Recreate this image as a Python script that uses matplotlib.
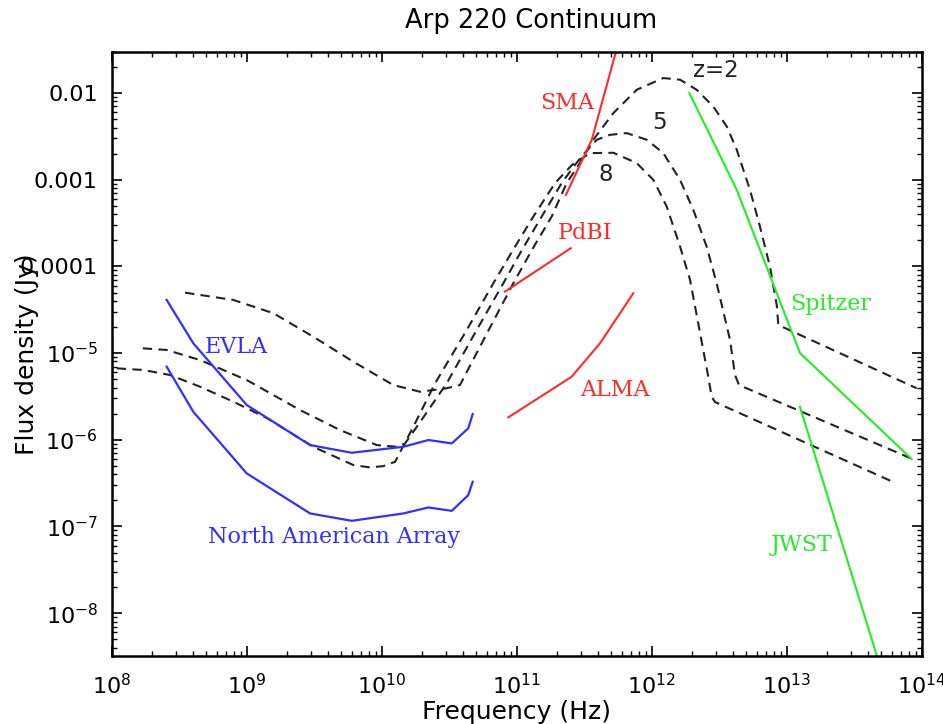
import numpy as np
import matplotlib
matplotlib.use("Agg")
import matplotlib.pyplot as plt

# values: log10(frequency / Hz) and log10(flux density / Jy)
evla_logf = [8.407, 8.604, 9.000, 9.469, 9.778, 10.160, 10.345, 10.519, 10.641, 10.674]
evla_logs = [-4.387, -4.887, -5.599, -6.061, -6.150, -6.081, -6.003, -6.042, -5.868, -5.703]

naa_logf = [8.407, 8.604, 9.000, 9.469, 9.778, 10.160, 10.345, 10.519, 10.641, 10.674]
naa_logs = [-5.157, -5.677, -6.388, -6.850, -6.935, -6.850, -6.781, -6.820, -6.639, -6.485]

sma_logf = [11.365, 11.556, 11.780]
sma_logs = [-3.174, -2.539, -1.269]

pdbi_logf = [10.913, 11.400]
pdbi_logs = [-4.291, -3.790]

alma_logf = [10.938, 11.407, 11.617, 11.864]
alma_logs = [-5.741, -5.273, -4.887, -4.309]

spitzer_logf = [12.279, 12.630, 13.098, 13.926]
spitzer_logs = [-2.000, -3.117, -4.999, -6.223]

jwst_logf = [13.098, 13.724]
jwst_logs = [-5.619, -8.775]

# Arp 220 SED redshifted to z = 2, 5, 8
z2_logf = [8.543, 8.901, 9.197, 9.493, 9.790, 10.086, 10.284, 10.481, 10.580, 10.773,
           10.975, 11.113, 11.259, 11.370, 11.469, 11.567, 11.716, 11.889, 12.086, 12.210,
           12.333, 12.456, 12.556, 12.630, 12.728, 12.802, 12.876, 12.926, 12.938, 13.963]
z2_logs = [-4.303, -4.387, -4.540, -4.811, -5.100, -5.369, -5.446, -5.406, -5.368, -4.791,
           -4.194, -3.809, -3.425, -3.039, -2.805, -2.539, -2.231, -1.962, -1.827, -1.846,
           -1.962, -2.155, -2.386, -2.655, -3.117, -3.541, -4.003, -4.445, -4.676, -5.406]

z5_logf = [8.230, 8.407, 8.654, 9.000, 9.395, 9.691, 9.963, 10.111, 10.173, 10.269,
           10.481, 10.691, 10.901, 11.039, 11.185, 11.333, 11.432, 11.491, 11.593, 11.691,
           11.815, 11.963, 12.086, 12.210, 12.308, 12.407, 12.481, 12.580, 12.617, 12.647,
           13.938]
z5_logs = [-4.945, -4.964, -5.080, -5.311, -5.657, -5.888, -6.061, -6.081, -6.042, -5.830,
           -5.349, -4.768, -4.194, -3.809, -3.425, -3.039, -2.828, -2.713, -2.539, -2.482,
           -2.462, -2.539, -2.693, -3.001, -3.347, -3.771, -4.194, -4.848, -5.253, -5.369,
           -6.226]

z8_logf = [8.037, 8.234, 8.432, 8.654, 8.901, 9.148, 9.493, 9.790, 9.913, 10.012,
           10.099, 10.234, 10.395, 10.617, 10.827, 10.973, 11.123, 11.284, 11.410, 11.543,
           11.716, 11.889, 12.012, 12.111, 12.210, 12.284, 12.358, 12.419, 12.444, 12.469,
           13.790]
z8_logs = [-5.176, -5.195, -5.253, -5.388, -5.561, -5.749, -6.081, -6.292, -6.319, -6.304,
           -6.254, -5.850, -5.349, -4.768, -4.194, -3.809, -3.425, -3.039, -2.828, -2.693,
           -2.689, -2.808, -3.001, -3.309, -3.771, -4.155, -4.768, -5.273, -5.503, -5.565,
           -6.488]

xticks = [1e8, 1e9, 1e10, 1e11, 1e12, 1e13, 1e14]
xticklabels = [r'$10^{8}$', r'$10^{9}$', r'$10^{10}$', r'$10^{11}$', r'$10^{12}$', r'$10^{13}$', r'$10^{14}$']
yticks = [1e-8, 1e-7, 1e-6, 1e-5, 1e-4, 1e-3, 1e-2]
yticklabels = [r'$10^{-8}$', r'$10^{-7}$', r'$10^{-6}$', r'$10^{-5}$', '0.0001', '0.001', '0.01']

blue = '#3030ff'
red = '#ff2a2a'
green = '#22ee22'

fig = plt.figure(figsize=(9.43, 7.24), dpi=100)
ax = fig.add_axes([0.1185, 0.0939, 0.8589, 0.8347])

dash = (0, (4.5, 3.0))
for lf, ls in [(z2_logf, z2_logs), (z5_logf, z5_logs), (z8_logf, z8_logs)]:
    ax.plot(10**np.array(lf), 10**np.array(ls), color='#222222', lw=1.5, linestyle=dash)

ax.plot(10**np.array(evla_logf), 10**np.array(evla_logs), color=blue, lw=1.6)
ax.plot(10**np.array(naa_logf), 10**np.array(naa_logs), color=blue, lw=1.6)
ax.plot(10**np.array(sma_logf), 10**np.array(sma_logs), color=red, lw=1.5)
ax.plot(10**np.array(pdbi_logf), 10**np.array(pdbi_logs), color=red, lw=1.5)
ax.plot(10**np.array(alma_logf), 10**np.array(alma_logs), color=red, lw=1.5)
ax.plot(10**np.array(spitzer_logf), 10**np.array(spitzer_logs), color=green, lw=1.5)
ax.plot(10**np.array(jwst_logf), 10**np.array(jwst_logs), color=green, lw=1.5)

ax.set_xscale('log')
ax.set_yscale('log')
ax.set_xlim(1e8, 1e14)
ax.set_ylim(3.2e-9, 0.030)

ax.set_xticks(xticks)
ax.set_xticklabels(xticklabels)
ax.set_yticks(yticks)
ax.set_yticklabels(yticklabels)
ax.tick_params(which='both', direction='in', top=True, right=True)
ax.tick_params(which='major', length=7.5, width=1.2, labelsize=16, pad=10)
ax.tick_params(which='minor', length=3.8, width=1.0)
ax.tick_params(axis='x', which='major', pad=12)
for s in ax.spines.values():
    s.set_linewidth(1.8)

ax.set_xlabel('Frequency (Hz)', fontsize=18)
ax.xaxis.set_label_coords(0.5, -0.072)
ax.set_ylabel('Flux density (Jy)', fontsize=18)
ax.yaxis.set_label_coords(-0.09, 0.5)
fig.text(0.563, 0.971, 'Arp 220 Continuum', fontsize=18.5, ha='center', va='center')

lab = dict(family='DejaVu Serif', fontsize=16, va='center')
ax.text(8.34e8, 1.17e-5, 'EVLA', color=blue, ha='center', **lab)
ax.text(5.16e8, 7.5e-8, 'North American Array', color=blue, ha='left', **lab)
ax.text(2.38e11, 7.7e-3, 'SMA', color=red, ha='center', **lab)
ax.text(3.2e11, 2.44e-4, 'PdBI', color=red, ha='center', **lab)
ax.text(5.35e11, 3.75e-6, 'ALMA', color=red, ha='center', **lab)
ax.text(2.13e13, 3.69e-5, 'Spitzer', color=green, ha='center', **lab)
ax.text(1.30e13, 6.08e-8, 'JWST', color=green, ha='center', **lab)
ax.text(3.0e12, 1.81e-2, 'z=2', color='#222222', ha='center', va='center', fontsize=16.5)
ax.text(1.15e12, 4.54e-3, '5', color='#222222', ha='center', va='center', fontsize=16.5)
ax.text(4.6e11, 1.14e-3, '8', color='#222222', ha='center', va='center', fontsize=16.5)

fig.savefig('out.png', dpi=100)
